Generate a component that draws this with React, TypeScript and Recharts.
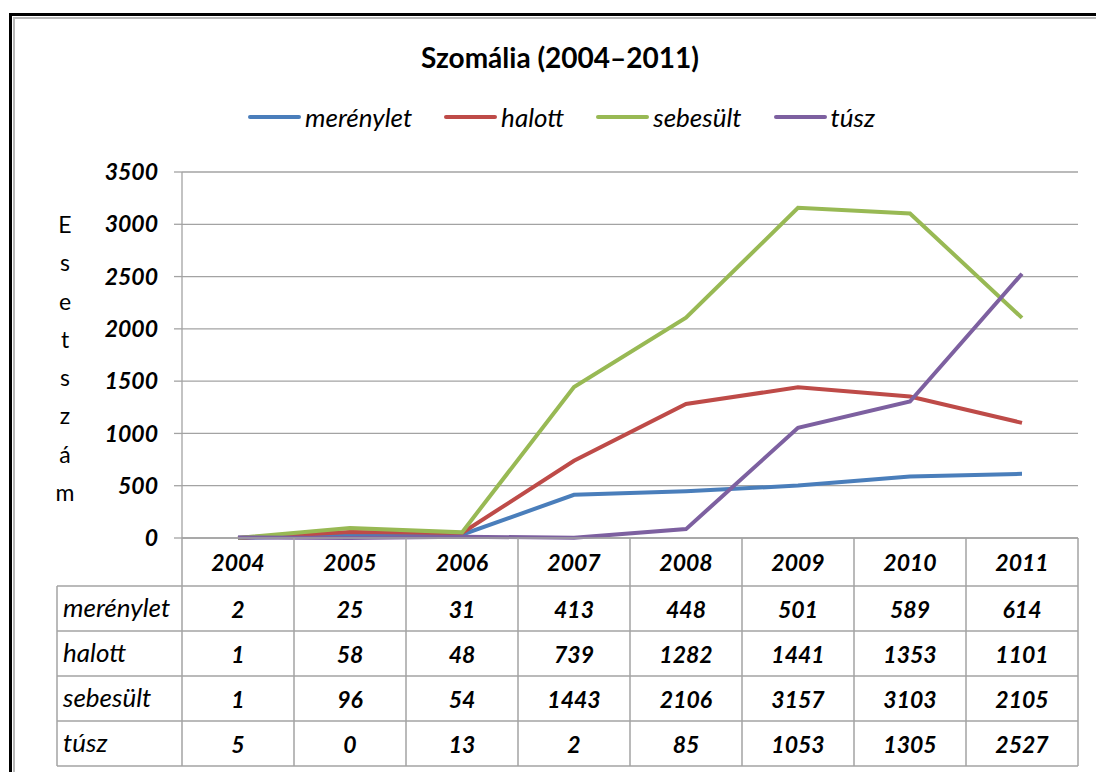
import React from 'react';
import { LineChart, Line, XAxis, YAxis, CartesianGrid, Legend } from 'recharts';

const years = ['2004', '2005', '2006', '2007', '2008', '2009', '2010', '2011'];
const merenylet = [2, 25, 31, 413, 448, 501, 589, 614];
const halott = [1, 58, 48, 739, 1282, 1441, 1353, 1101];
const sebesult = [1, 96, 54, 1443, 2106, 3157, 3103, 2105];
const tusz = [5, 0, 13, 2, 85, 1053, 1305, 2527];
const yTicks = [0, 500, 1000, 1500, 2000, 2500, 3000, 3500];
const seriesKeys = ['merenylet', 'halott', 'sebesult', 'tusz'];
const seriesNames = ['merénylet', 'halott', 'sebesült', 'túsz'];
const seriesColors = ['#4A7EBB', '#BE4B48', '#98B954', '#7D60A0'];
const seriesValues = [merenylet, halott, sebesult, tusz];
const chartTitle = 'Szomália (2004–2011)';
const yAxisTitle = 'Esetszám';

const W = 1096;
const H = 772;
const PL = 182;
const PR = 1078;
const PT = 172;
const PB = 538;
const YAXIS_W = 80;
const XAXIS_H = 48;
const HEADER_BOTTOM = 586;
const ROW_H = 45;
const TABLE_LEFT = 57;
const FONT = 'Lato, "Open Sans", sans-serif';
const GRID = '#a3a3a3';

const data = years.map((y, i) => ({
  year: y,
  merenylet: merenylet[i],
  halott: halott[i],
  sebesult: sebesult[i],
  tusz: tusz[i],
}));

const XTick = (props: any) => {
  const { x, payload } = props;
  return (
    <text
      x={x}
      y={PB + XAXIS_H / 2}
      textAnchor="middle"
      dominantBaseline="central"
      fill="#000"
      fontFamily={FONT}
      fontSize={23}
      fontWeight={700}
      fontStyle="italic"
    >
      {payload.value}
    </text>
  );
};

const renderLegend = () => (
  <div style={{ display: 'flex', alignItems: 'center', paddingLeft: 248, height: 30 }}>
    {seriesNames.map((n, i) => (
      <div key={n} style={{ display: 'flex', alignItems: 'center', marginRight: 32 }}>
        <div style={{ width: 53, height: 4, borderRadius: 2, background: seriesColors[i], marginRight: 4 }} />
        <span style={{ fontFamily: FONT, fontSize: 26, fontWeight: 400, fontStyle: 'italic', color: '#000' }}>{n}</span>
      </div>
    ))}
  </div>
);

export default function App() {
  const colW = (PR - PL) / years.length;
  const rowTops = seriesNames.map((_, i) => HEADER_BOTTOM + i * ROW_H);
  const tableBottom = HEADER_BOTTOM + seriesNames.length * ROW_H;
  return (
    <div style={{ position: 'fixed', left: 0, top: 0, width: W, height: H, background: '#fff', overflow: 'hidden' }}>
      <div style={{ position: 'absolute', left: 9, top: 13, width: 3000, height: 3000, borderLeft: '3px solid #000', borderTop: '3px solid #000' }}>
        <div style={{ position: 'absolute', left: 1, top: 1, width: 2900, height: 2900, borderLeft: '2px solid #b8b8b8', borderTop: '2px solid #b8b8b8' }} />
      </div>
      <div style={{ position: 'absolute', left: 0, top: 0 }}>
        <LineChart
          width={W}
          height={H}
          data={data}
          margin={{ top: PT, left: PL - YAXIS_W, right: W - PR, bottom: H - PB - XAXIS_H }}
        >
          <CartesianGrid horizontal vertical={false} stroke={GRID} strokeWidth={1.3} />
          <XAxis
            dataKey="year"
            height={XAXIS_H}
            padding={{ left: colW / 2, right: colW / 2 }}
            tickLine={false}
            axisLine={{ stroke: GRID, strokeWidth: 1.3 }}
            tick={<XTick />}
            interval={0}
          />
          <YAxis
            width={YAXIS_W}
            domain={[0, 3500]}
            ticks={yTicks}
            interval={0}
            tickSize={8}
            tickMargin={16}
            tickLine={{ stroke: GRID, strokeWidth: 1.3 }}
            axisLine={{ stroke: GRID, strokeWidth: 1.3 }}
            tick={{ fill: '#000', fontFamily: FONT, fontSize: 23, fontWeight: 700, fontStyle: 'italic' }}
          />
          <Legend
            verticalAlign="middle"
            align="center"
            layout="horizontal"
            wrapperStyle={{ top: 102, left: 0, width: W, height: 30 }}
            content={renderLegend}
          />
          {seriesKeys.map((k, i) => (
            <Line
              key={k}
              type="linear"
              dataKey={k}
              name={seriesNames[i]}
              stroke={seriesColors[i]}
              strokeWidth={4}
              dot={false}
              activeDot={false}
              isAnimationActive={false}
            />
          ))}
        </LineChart>
      </div>
      <div
        style={{
          position: 'absolute', left: 260, width: 600, top: 39, height: 36, lineHeight: '36px',
          textAlign: 'center', fontFamily: FONT, fontSize: 28, fontWeight: 700, color: '#000',
        }}
      >
        {chartTitle}
      </div>
      <div style={{ position: 'absolute', left: 45, top: 205, width: 40, textAlign: 'center' }}>
        {yAxisTitle.split('').map((c, i) => (
          <div key={i} style={{ height: 38.3, lineHeight: '38.3px', fontFamily: FONT, fontSize: 23, fontWeight: 400, color: '#000' }}>
            {c}
          </div>
        ))}
      </div>
      <svg width={W} height={H} style={{ position: 'absolute', left: 0, top: 0, pointerEvents: 'none' }}>
        {years.map((_, i) => (
          <line key={'v' + i} x1={PL + (i + 1) * colW} x2={PL + (i + 1) * colW} y1={PB} y2={tableBottom} stroke={GRID} strokeWidth={1.5} />
        ))}
        <line x1={PL} x2={PL} y1={PB} y2={tableBottom} stroke={GRID} strokeWidth={1.5} />
        <line x1={TABLE_LEFT} x2={TABLE_LEFT} y1={HEADER_BOTTOM} y2={tableBottom} stroke={GRID} strokeWidth={1.5} />
        {[...rowTops, tableBottom].map((y, i) => (
          <line key={'h' + i} x1={TABLE_LEFT} x2={PR} y1={y} y2={y} stroke={GRID} strokeWidth={1.5} />
        ))}
        {seriesNames.map((n, r) => (
          <g key={n}>
            <text
              x={TABLE_LEFT + 6}
              y={rowTops[r] + ROW_H / 2 - 2}
              dominantBaseline="central"
              fontFamily={FONT}
              fontSize={26}
              fontWeight={400}
              fontStyle="italic"
              fill="#000"
            >
              {n}
            </text>
            {seriesValues[r].map((v, c) => (
              <text
                key={c}
                x={PL + (c + 0.5) * colW}
                y={rowTops[r] + ROW_H / 2}
                textAnchor="middle"
                dominantBaseline="central"
                fontFamily={FONT}
                fontSize={23}
                fontWeight={700}
                fontStyle="italic"
                fill="#000"
              >
                {v}
              </text>
            ))}
          </g>
        ))}
      </svg>
    </div>
  );
}
